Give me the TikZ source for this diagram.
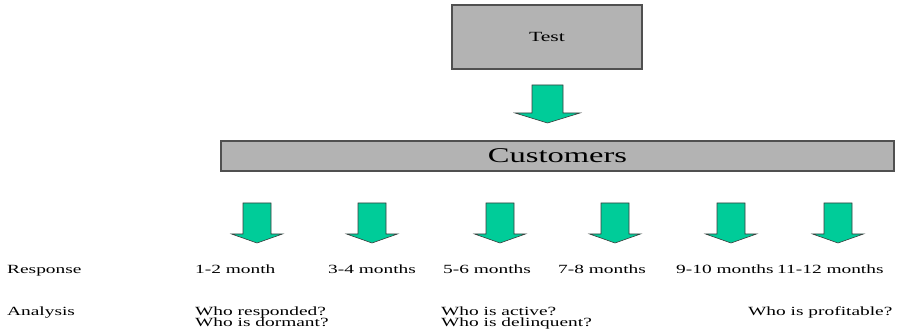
\documentclass[tikz,border=0pt]{standalone}
\usepackage{fontspec}
\usepackage{graphicx}
\setmainfont{Liberation Serif}
\definecolor{boxfill}{RGB}{179,179,179}
\definecolor{boxline}{RGB}{80,80,80}
\definecolor{arrowgreen}{RGB}{0,204,153}
\definecolor{arrowline}{RGB}{60,60,60}
\newcommand\widetext[1]{\scalebox{1.55}[1]{#1}}
\newcommand\lblfont{\fontsize{12.5}{11}\selectfont}
\tikzset{
  box/.style={draw=boxline, fill=boxfill, line width=1.3pt, inner sep=0pt},
  lbl/.style={font=\lblfont, inner sep=0pt, anchor=base west},
  greenarrow/.style={fill=arrowgreen, draw=arrowline, line width=0.6pt, line join=miter},
  pics/downarrow/.style args={#1/#2/#3/#4/#5}{
    code={
      % #1 shaft half width, #2 head half width, #3 top, #4 head base, #5 tip
      \path[greenarrow] (-#1,#3) -- (#1,#3) -- (#1,#4) -- (#2,#4) -- (0,#5)
        -- (-#2,#4) -- (-#1,#4) -- cycle;
    }
  }
}
\begin{document}
\begin{tikzpicture}[x=1pt,y=-1pt]
\useasboundingbox (0,0) rectangle (897,331);

% boxes
\node[box, minimum width=190pt, minimum height=64pt] (test) at (547,37)
  {\fontsize{14}{16}\selectfont\widetext{Test}};
\node[box, minimum width=673pt, minimum height=30pt] (cust) at (557.5,156)
  {\fontsize{21}{24}\selectfont\widetext{Customers}};

% big arrow
\pic at (547.5,0) {downarrow={15.5/32.5/85/113/123}};

% small arrows
\foreach \cx in {257,372,500,615,731,838}{
  \pic at (\cx,0) {downarrow={14/25.5/203/234/243}};
}

% response row
\node[lbl] (resp) at (7,273) {\widetext{Response}};
\node[lbl] (m12) at (195,273) {\widetext{1-2 month}};
\node[lbl] (m34) at (328,273) {\widetext{3-4 months}};
\node[lbl] (m56) at (443,273) {\widetext{5-6 months}};
\node[lbl] (m78) at (558,273) {\widetext{7-8 months}};
\node[lbl] (m910) at (676,273) {\widetext{9-10 months}};
\node[lbl] (m1112) at (777,273) {\widetext{11-12 months}};

% analysis row
\node[lbl] (anal) at (7,315) {\widetext{Analysis}};
\node[lbl] (a1) at (195,315) {\widetext{\begin{tabular}[t]{@{}l@{}}Who responded?\\Who is dormant?\end{tabular}}};
\node[lbl] (a2) at (441,315) {\widetext{\begin{tabular}[t]{@{}l@{}}Who is active?\\Who is delinquent?\end{tabular}}};
\node[lbl] (a3) at (748,315) {\widetext{Who is profitable?}};
\end{tikzpicture}
\end{document}
